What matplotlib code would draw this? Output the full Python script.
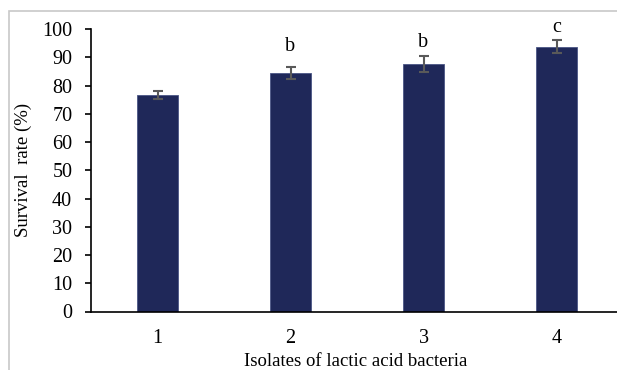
import matplotlib
matplotlib.use("Agg")
import matplotlib.pyplot as plt
from matplotlib.patches import Rectangle

categories = ["1", "2", "3", "4"]
values = [76.5, 84.5, 87.6, 93.7]
errors = [1.4, 2.2, 2.8, 2.3]
letters = ["", "b", "b", "c"]
letter_y = [0, 92.2, 93.6, 98.9]
yticks = [0, 10, 20, 30, 40, 50, 60, 70, 80, 90, 100]

plt.rcParams['font.family'] = ['Liberation Serif', 'DejaVu Serif']

W, H = 617, 370
fig = plt.figure(figsize=(W / 100, H / 100), dpi=100)

# outer gray frame (only left/top visible)
fig.patches.append(Rectangle((9 / W, -0.1), 1.2, (H - 11) / H + 0.1,
                             transform=fig.transFigure, fill=False,
                             edgecolor="#c8c8c8", linewidth=1.2))

ax = fig.add_axes([91 / W, (H - 311.5) / H, 532 / W, (311.5 - 29) / H])
x = range(len(categories))
ax.bar(x, values, width=0.31, color="#1f2859", edgecolor="#4a5585", linewidth=0.6,
       yerr=errors, error_kw=dict(ecolor="#595959", elinewidth=1.5, capsize=3.3, capthick=1.5))
for i, (yy, l) in enumerate(zip(letter_y, letters)):
    if l:
        ax.text(i, yy, l, ha="center", va="baseline", fontsize=14.5)

ax.set_xlim(-0.5, 3.5)
ax.set_ylim(0, 100)
ax.set_yticks(yticks)
ax.set_xticks(list(x))
ax.set_xticklabels(categories)
ax.tick_params(axis="y", direction="out", length=4.5, width=1.2, labelsize=14.5, pad=9)
ax.tick_params(axis="x", length=0, labelsize=14.5, pad=12.5)
for s in ["top", "right"]:
    ax.spines[s].set_visible(False)
ax.spines["left"].set_linewidth(1.2)
ax.spines["bottom"].set_linewidth(1.2)

fig.text(356 / W, 3.5 / H, "Isolates of lactic acid bacteria", ha="center", va="baseline",
         fontsize=13.5)
fig.text(23.5 / W, 1 - 170 / H, "Survival  rate (%)", ha="center", va="center",
         rotation=90, fontsize=13.5)

fig.savefig("out.png", dpi=100)
